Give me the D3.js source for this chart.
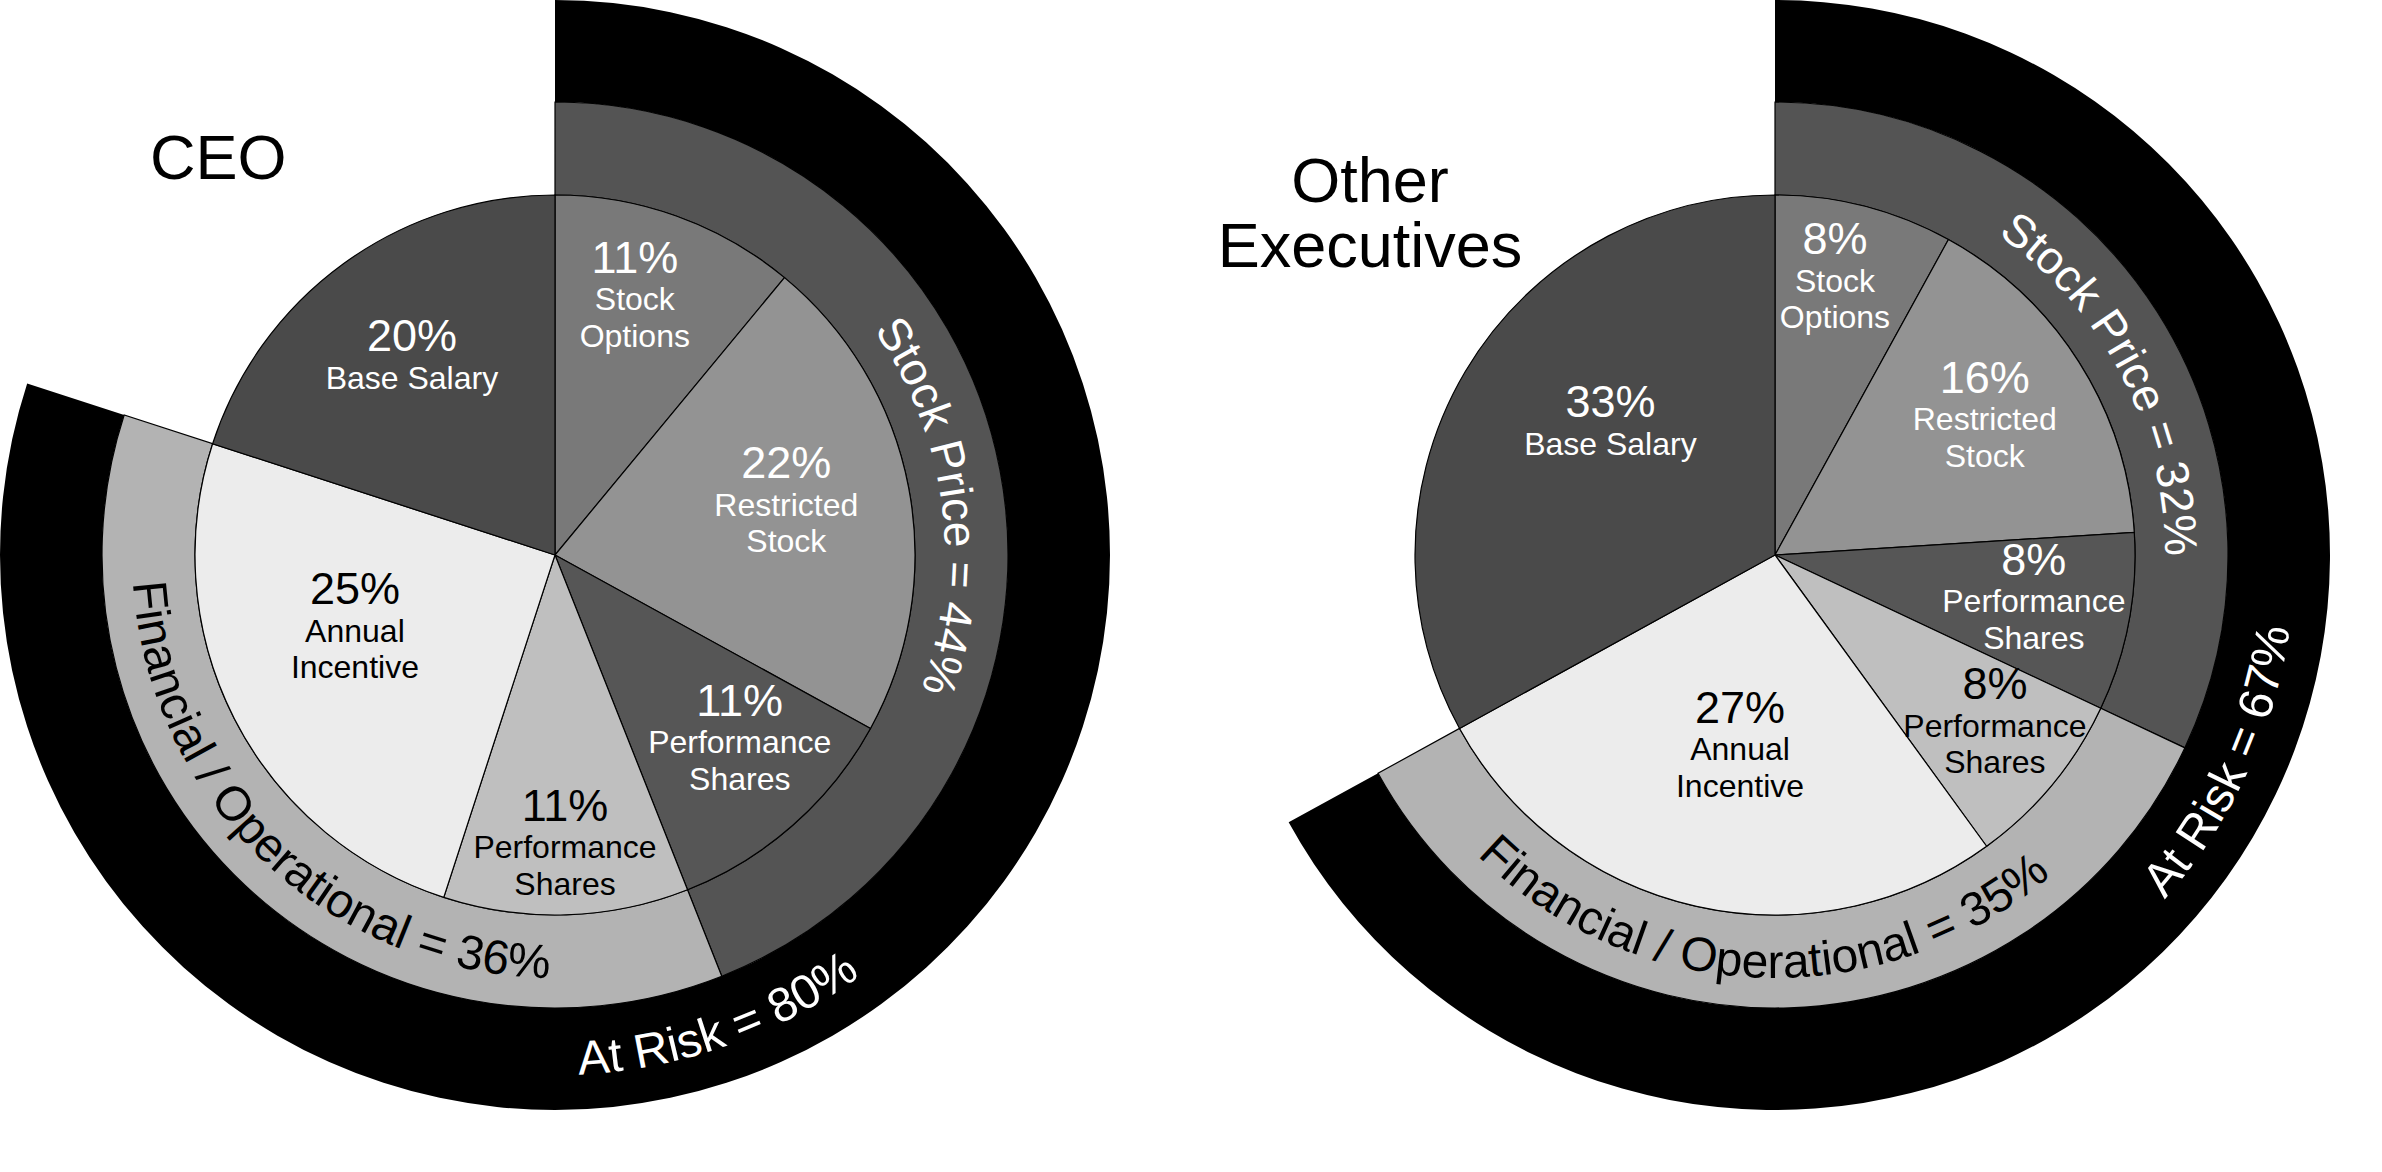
<!DOCTYPE html>
<html>
<head>
<meta charset="utf-8">
<script src="https://cdn.jsdelivr.net/npm/d3@7"></script>
<style>
  html, body { margin: 0; padding: 0; background: #fff; }
  svg { display: block; }
  text { font-family: "Liberation Sans", Arial, Helvetica, sans-serif; }
</style>
</head>
<body>
<div id="chart"></div>
<script>
// pay mix slices, clockwise from 12 o'clock
var sliceNames = ["Stock Options", "Restricted Stock", "Performance Shares", "Performance Shares", "Annual Incentive", "Base Salary"];
var sliceLines = [["Stock", "Options"], ["Restricted", "Stock"], ["Performance", "Shares"], ["Performance", "Shares"], ["Annual", "Incentive"], ["Base Salary"]];
var sliceGroups = ["Stock Price", "Stock Price", "Stock Price", "Financial / Operational", "Financial / Operational", null];
var ceoValues = [11, 22, 11, 11, 25, 20];
var otherValues = [8, 16, 8, 8, 27, 33];
var groupNames = ["Stock Price", "Financial / Operational"];
var riskName = "At Risk";

// styling
var sliceFill = ["#797979", "#939393", "#565656", "#bfbfbf", "#ececec", "#4a4a4a"];
var sliceInk = ["#fff", "#fff", "#fff", "#000", "#000", "#fff"];
var groupFill = ["#545454", "#b3b3b3"];
var groupInk = ["#fff", "#000"];
var groupClockwise = [true, false];

// label placement: [angle in degrees, distance from centre]
var ceoLabelPos = [[17, 273], [76.4, 238], [134.5, 259], [178, 287], [250.7, 212], [324.6, 247]];
var otherLabelPos = [[12.1, 286], [56, 253], [98.9, 262], [126.9, 275], [190.5, 192], [309.4, 213]];
// mid angles of curved texts: stock price, financial, at risk
var ceoRingAngles = [82.5, 223.5, 160.7];
var otherRingAngles = [62.5, 182, 114.8];

var width = 2382,
  height = 1172,
  cy = 555,
  rPie = 360,
  rMid = 453,
  rOut = 555;

var charts = [
  { id: "ceo", title: ["CEO"], values: ceoValues, cx: 555, titleX: 150, titleY: 179, anchor: "start",
    labelPos: ceoLabelPos, ringAngles: ceoRingAngles },
  { id: "oth", title: ["Other", "Executives"], values: otherValues, cx: 1775, titleX: 1370, titleY: 202, anchor: "middle",
    labelPos: otherLabelPos, ringAngles: otherRingAngles }
];

var svg = d3.select("#chart")
  .append("svg")
  .attr("width", width)
  .attr("height", height);

function rad(deg) { return deg * Math.PI / 180; }

function arcPath(r, midDeg, clockwise) {
  var half = rad(80), m = rad(midDeg);
  var a0 = clockwise ? m - half : m + half,
    a1 = clockwise ? m + half : m - half;
  return "M" + (r * Math.sin(a0)) + "," + (-r * Math.cos(a0)) +
    "A" + r + "," + r + " 0 0 " + (clockwise ? 1 : 0) + " " +
    (r * Math.sin(a1)) + "," + (-r * Math.cos(a1));
}

function drawChart(c) {
  var g = svg.append("g")
    .attr("transform", "translate(" + c.cx + "," + cy + ")");

  var pie = d3.pie()
    .sort(null)
    .value(function(d) { return d.value; });

  var slices = pie(c.values.map(function(v, i) {
    return { name: sliceNames[i], group: sliceGroups[i], value: v, i: i };
  }));

  var groups = groupNames.map(function(name, k) {
    var s = slices.filter(function(d) { return d.data.group === name; });
    return {
      name: name, k: k,
      startAngle: d3.min(s, function(d) { return d.startAngle; }),
      endAngle: d3.max(s, function(d) { return d.endAngle; }),
      value: d3.sum(s, function(d) { return d.data.value; })
    };
  });

  var risk = {
    startAngle: d3.min(groups, function(d) { return d.startAngle; }),
    endAngle: d3.max(groups, function(d) { return d.endAngle; }),
    value: d3.sum(groups, function(d) { return d.value; })
  };

  var outerArc = d3.arc().innerRadius(rMid).outerRadius(rOut);
  var ringArc = d3.arc().innerRadius(rPie).outerRadius(rMid);
  var pieArc = d3.arc().innerRadius(0).outerRadius(rPie);

  // at risk band
  g.append("path")
    .attr("d", outerArc(risk))
    .attr("fill", "#000");

  // stock price / financial band
  g.selectAll(".ring")
    .data(groups)
    .enter()
    .append("path")
    .attr("class", "ring")
    .attr("d", ringArc)
    .attr("fill", function(d) { return groupFill[d.k]; })
    .attr("stroke", "#000")
    .attr("stroke-width", 1.2);

  // slices
  g.selectAll(".slice")
    .data(slices)
    .enter()
    .append("path")
    .attr("class", "slice")
    .attr("d", pieArc)
    .attr("fill", function(d) { return sliceFill[d.data.i]; })
    .attr("stroke", "#000")
    .attr("stroke-width", 1.2);

  // slice labels
  var lab = g.selectAll(".lab")
    .data(slices)
    .enter()
    .append("text")
    .attr("class", "lab")
    .attr("text-anchor", "middle")
    .attr("fill", function(d) { return sliceInk[d.data.i]; })
    .attr("transform", function(d) {
      var p = c.labelPos[d.data.i];
      var n = sliceLines[d.data.i].length;
      var x = p[1] * Math.sin(rad(p[0])),
        y = -p[1] * Math.cos(rad(p[0])) - (37 * n - 32) / 2;
      return "translate(" + x + "," + y + ")";
    });

  lab.append("tspan")
    .attr("x", 0)
    .attr("y", 0)
    .style("font-size", "45px")
    .text(function(d) { return d.data.value + "%"; });

  lab.each(function(d) {
    var t = d3.select(this);
    sliceLines[d.data.i].forEach(function(line, j) {
      t.append("tspan")
        .attr("x", 0)
        .attr("y", 37.5 + j * 36.5)
        .style("font-size", "32px")
        .text(line);
    });
  });

  // curved band labels
  var bands = groups.map(function(d) {
    return {
      text: d.name + " = " + d.value + "%",
      r: groupClockwise[d.k] ? 390 : 423,
      angle: c.ringAngles[d.k],
      cw: groupClockwise[d.k],
      ink: groupInk[d.k],
      size: groupClockwise[d.k] ? 46 : 48
    };
  });
  bands.push({ text: riskName + " = " + risk.value + "%", r: 520, angle: c.ringAngles[2], cw: false, ink: "#fff", size: 48 });

  bands.forEach(function(b, j) {
    var pid = c.id + "-band-" + j;
    // path lives in the same translated space as the text
    g.append("path")
      .attr("id", pid)
      .attr("d", arcPath(b.r, b.angle, b.cw))
      .attr("fill", "none")
      .attr("stroke", "none");
    g.append("text")
      .attr("fill", b.ink)
      .style("font-size", b.size + "px")
      .append("textPath")
      .attr("href", "#" + pid)
      .attr("startOffset", "50%")
      .attr("text-anchor", "middle")
      .text(b.text);
  });

  // title
  svg.append("text")
    .attr("x", c.titleX)
    .attr("y", c.titleY)
    .attr("text-anchor", c.anchor)
    .style("font-size", "63px")
    .selectAll("tspan")
    .data(c.title)
    .enter()
    .append("tspan")
    .attr("x", c.titleX)
    .attr("dy", function(d, i) { return i ? 65 : 0; })
    .text(function(d) { return d; });
}

charts.forEach(drawChart);
</script>
</body>
</html>
